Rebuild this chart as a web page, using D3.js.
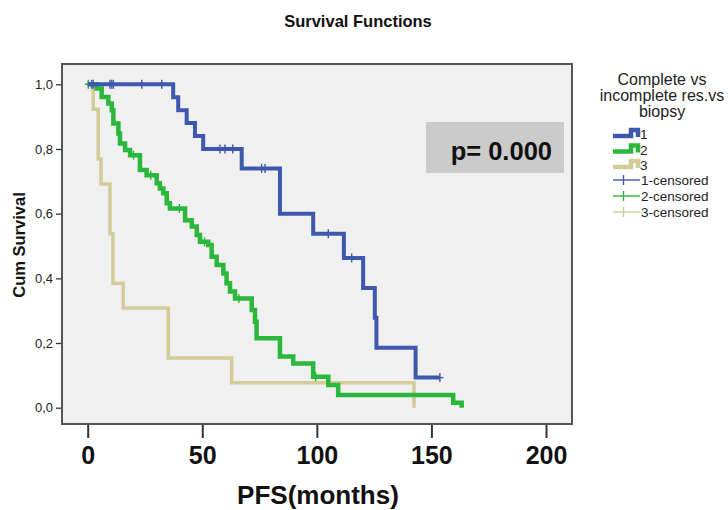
<!DOCTYPE html>
<html>
<head>
<meta charset="utf-8">
<script src="https://cdn.jsdelivr.net/npm/d3@7/dist/d3.min.js"></script>
<style>
  html, body { margin: 0; padding: 0; background: #ffffff; }
  svg { display: block; font-family: "Liberation Sans", Arial, sans-serif; }
</style>
</head>
<body>
<svg id="chart" width="728" height="510"></svg>
<script>
// ---------- data ----------
const chartTitle = "Survival Functions";
const xTitle = "PFS(months)";
const yTitle = "Cum Survival";
const pText = "p= 0.000";
const legendTitle = ["Complete vs", "incomplete res.vs", "biopsy"];
const groupNames = ["1", "2", "3"];
const censorNames = ["1-censored", "2-censored", "3-censored"];
const xTicks = [0, 50, 100, 150, 200];
const yTicks = [0, 0.2, 0.4, 0.6, 0.8, 1.0];

// group 1 (blue)
const g1Times = [0, 37.3, 39.5, 43.2, 46.8, 50.4, 67.2, 83.9, 98.4, 111.8, 120.2, 125.3, 126.0, 143.1, 153.7];
const g1Surv  = [1, 0.96, 0.92, 0.88, 0.84, 0.80, 0.74, 0.60, 0.538, 0.463, 0.370, 0.278, 0.185, 0.093, 0.093];
const g1Censor = [1.7, 2.4, 9.7, 10.5, 11.2, 23.6, 32.3, 57.7, 59.9, 63.3, 75.9, 77.4, 105.0, 115.2, 153.7];

// group 2 (green)
const g2Times = [0, 3.9, 6.1, 9.0, 10.5, 11.2, 13.4, 14.1, 16.3, 18.5, 22.8, 25.7, 30.1, 31.5, 33.0, 34.5, 35.9, 42.5, 45.4, 47.6, 49.0, 52.6, 54.1, 56.3, 59.2, 60.6, 62.1, 64.3, 71.6, 73.0, 73.7, 83.9, 89.7, 98.4, 105.0, 109.3, 159.5, 163.2];
const g2Surv  = [1, 0.987, 0.961, 0.941, 0.920, 0.879, 0.848, 0.817, 0.797, 0.781, 0.735, 0.719, 0.694, 0.678, 0.663, 0.632, 0.616, 0.580, 0.560, 0.534, 0.513, 0.503, 0.467, 0.441, 0.415, 0.385, 0.359, 0.338, 0.302, 0.266, 0.215, 0.158, 0.137, 0.096, 0.070, 0.039, 0.015, 0.0];
const g2Censor = [0.3, 20.0, 27.5, 40.0, 51.0, 66.0, 99.5];

// group 3 (tan)
const g3Times = [0, 2.4, 4.6, 5.8, 9.7, 11.0, 15.5, 35.2, 62.8, 142.4];
const g3Surv  = [1, 0.923, 0.769, 0.692, 0.538, 0.385, 0.308, 0.154, 0.077, 0];
const g3Censor = [0.3];

const colors = ["#3d58ad", "#2bb63c", "#d4cc98"];
const widths = [4, 4.5, 3.5];

// ---------- layout ----------
const svg = d3.select("#chart");
const box = {left: 62, right: 572, top: 64, bottom: 424};
const x = d3.scaleLinear().domain([0, 200]).range([87.7, 546]);
const y = d3.scaleLinear().domain([0, 1]).range([407.7, 84.3]);

// plot background
svg.append("rect")
  .attr("x", box.left).attr("y", box.top)
  .attr("width", box.right - box.left).attr("height", box.bottom - box.top)
  .attr("fill", "#f0f0f0");

// title
svg.append("text").attr("x", 358).attr("y", 27)
  .attr("text-anchor", "middle").attr("font-weight", "bold")
  .attr("font-size", 16.5).attr("fill", "#111").text(chartTitle);

// axes
const yAxis = d3.axisLeft(y).tickValues(yTicks).tickSize(6).tickPadding(3)
  .tickFormat(d => d3.format(".1f")(d).replace(".", ","));
const gy = svg.append("g").attr("transform", `translate(${box.left},0)`).call(yAxis);
gy.select(".domain").remove();
gy.selectAll(".tick line").attr("stroke", "#333").attr("stroke-width", 1.3);
gy.selectAll(".tick text").attr("font-size", 13).attr("fill", "#222")
  .attr("font-family", "Liberation Sans, Arial, sans-serif");

const xAxis = d3.axisBottom(x).tickValues(xTicks).tickSize(14).tickPadding(8)
  .tickFormat(d3.format("d"));
const gx = svg.append("g").attr("transform", `translate(0,${box.bottom})`).call(xAxis);
gx.select(".domain").remove();
gx.selectAll(".tick line").attr("stroke", "#333").attr("stroke-width", 2);
gx.selectAll(".tick text").attr("font-size", 25).attr("font-weight", "bold").attr("fill", "#111")
  .attr("font-family", "Liberation Sans, Arial, sans-serif");

// axis titles
svg.append("text").attr("x", 318).attr("y", 504)
  .attr("text-anchor", "middle").attr("font-weight", "bold")
  .attr("font-size", 26).attr("fill", "#111").text(xTitle);
svg.append("text").attr("transform", "translate(25,245) rotate(-90)")
  .attr("text-anchor", "middle").attr("font-weight", "bold")
  .attr("font-size", 16.5).attr("fill", "#111").text(yTitle);

// p-value box
svg.append("rect").attr("x", 426).attr("y", 122).attr("width", 138).attr("height", 51)
  .attr("fill", "#cbcbcb");
svg.append("text").attr("x", 552).attr("y", 160).attr("text-anchor", "end")
  .attr("font-weight", "bold").attr("font-size", 25.5).attr("fill", "#111").text(pText);

// curves
const groups = [
  {t: g1Times, s: g1Surv, c: g1Censor, i: 0},
  {t: g2Times, s: g2Surv, c: g2Censor, i: 1},
  {t: g3Times, s: g3Surv, c: g3Censor, i: 2}
];
const line = d3.line().x(d => x(d[0])).y(d => y(d[1])).curve(d3.curveStepAfter);
const drawOrder = [2, 1, 0];
const plotG = svg.append("g");
drawOrder.forEach(k => {
  const g = groups[k];
  const pts = g.t.map((t, j) => [t, g.s[j]]);
  plotG.append("path").attr("d", line(pts)).attr("fill", "none")
    .attr("stroke", colors[g.i]).attr("stroke-width", widths[g.i])
    .attr("stroke-linejoin", "miter").attr("stroke-linecap", "butt");
  const survAt = t => { let v = g.s[0]; g.t.forEach((tt, j) => { if (tt <= t) v = g.s[j]; }); return v; };
  g.c.forEach(ct => {
    const cx = x(ct), cy = y(survAt(ct));
    plotG.append("line").attr("x1", cx).attr("x2", cx).attr("y1", cy - 4.5).attr("y2", cy + 4.5)
      .attr("stroke", colors[g.i]).attr("stroke-width", 1.4);
    plotG.append("line").attr("x1", cx - 3.5).attr("x2", cx + 3.5).attr("y1", cy).attr("y2", cy)
      .attr("stroke", colors[g.i]).attr("stroke-width", 1.4);
  });
});

// frame
svg.append("rect")
  .attr("x", box.left).attr("y", box.top)
  .attr("width", box.right - box.left).attr("height", box.bottom - box.top)
  .attr("fill", "none").attr("stroke", "#555").attr("stroke-width", 2);

// legend
const lg = svg.append("g");
legendTitle.forEach((t, i) => {
  lg.append("text").attr("x", 662).attr("y", 85 + i * 16).attr("text-anchor", "middle")
    .attr("font-size", 16).attr("fill", "#222").text(t);
});
groupNames.forEach((n, i) => {
  const cy = 134 + i * 15.5;
  lg.append("path").attr("d", `M613,${cy + 2} H631 V${cy - 4} H638 V${cy + 3}`)
    .attr("fill", "none").attr("stroke", colors[i]).attr("stroke-width", 4.5);
  lg.append("text").attr("x", 640).attr("y", cy + 5).attr("font-size", 13.5).attr("fill", "#222").text(n);
});
censorNames.forEach((n, i) => {
  const cy = 180 + i * 16;
  lg.append("line").attr("x1", 613).attr("x2", 640).attr("y1", cy).attr("y2", cy)
    .attr("stroke", colors[i]).attr("stroke-width", 1.4);
  lg.append("line").attr("x1", 623.5).attr("x2", 623.5).attr("y1", cy - 5).attr("y2", cy + 5)
    .attr("stroke", colors[i]).attr("stroke-width", 1.4);
  lg.append("text").attr("x", 641).attr("y", cy + 5).attr("font-size", 13.5).attr("fill", "#222").text(n);
});
</script>
</body>
</html>
